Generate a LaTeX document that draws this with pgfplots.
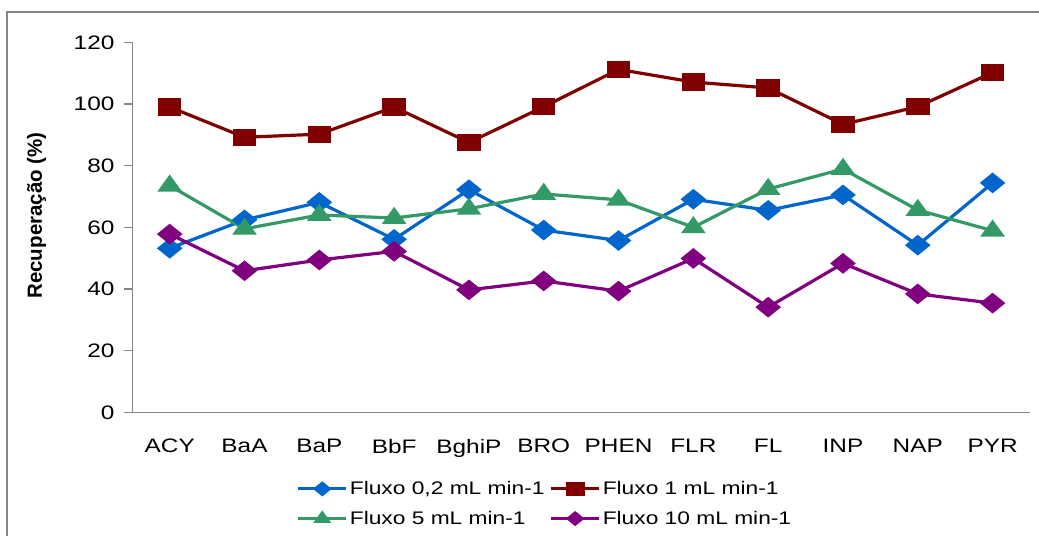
\documentclass[border=0pt]{standalone}
\usepackage{fontspec}
\setmainfont[FakeStretch=1.25]{Liberation Sans}
\newfontfamily\labelfont{Liberation Sans}
\usepackage{pgfplots}
\pgfplotsset{compat=1.18}

\definecolor{fblue}{HTML}{0066CC}
\definecolor{fred}{HTML}{800000}
\definecolor{fgreen}{HTML}{339966}
\definecolor{fpurple}{HTML}{800080}
\definecolor{axgray}{HTML}{868686}

% Recovery (%) per compound, x = 0..11 (ACY ... PYR)
\begin{document}
\begin{tikzpicture}
\useasboundingbox (0,0) rectangle (1039pt,536pt);
\draw[axgray, line width=1.2pt] (7pt,0pt) -- (7pt,524pt) -- (1039pt,524pt);
\begin{axis}[
  at={(132.3pt,123.7pt)}, anchor=south west,
  scale only axis, width=897.7pt, height=370pt,
  xmin=-0.5, xmax=11.5, ymin=0, ymax=120,
  axis lines*=left,
  axis line style={-, draw=axgray, line width=1.2pt},
  xtick={0,...,11},
  xticklabels={ACY,BaA,BaP,BbF,BghiP,BRO,PHEN,FLR,FL,INP,NAP,PYR},
  x tick style={draw=none},
  ytick={0,20,...,120},
  y tick style={draw=axgray, line width=1.2pt},
  tick align=outside, tick pos=left,
  major tick length=8pt,
  /pgf/number format/assume math mode=true,
  tick label style={font=\fontsize{19.5}{23}\selectfont, text=black},
  yticklabel style={xshift=-5pt},
  xticklabel style={yshift=-14pt},
  ylabel={\labelfont\bfseries Recuperação (\%)},
  ylabel style={at={(axis description cs:-0.1065,0.532)}, anchor=center,
    font=\fontsize{20.5}{24}\selectfont},
  line width=3.2pt,
  legend columns=2,
  legend cell align=left,
  legend style={at={(axis description cs:0.178,-0.172)}, anchor=north west,
    draw=none, fill=none, font=\fontsize{18.2}{21.5}\selectfont,
    row sep=11pt,
    /tikz/every even column/.append style={column sep=3pt}},
  legend image code/.code={
    \draw[mark repeat=2,mark phase=2,#1,mark size=5.5pt] plot coordinates {(0pt,0pt)(24pt,0pt)(48pt,0pt)};},
]
\addplot[fblue, mark=diamond*, mark size=8.3pt, mark options={xscale=1.65, solid}]
  coordinates {(0,53.2)(1,62.4)(2,68.1)(3,56.1)(4,72.2)(5,59.1)(6,55.7)(7,69.1)(8,65.5)(9,70.5)(10,54.2)(11,74.4)};
\addlegendentry{Fluxo 0,2 mL min-1}
\addplot[fred, mark=square*, mark size=7pt, mark options={xscale=1.45, solid}]
  coordinates {(0,99.0)(1,89.2)(2,90.2)(3,99.0)(4,87.5)(5,99.1)(6,111.2)(7,107.1)(8,105.2)(9,93.4)(10,99.1)(11,110.2)};
\addlegendentry{Fluxo 1 mL min-1}
\addplot[fgreen, mark=triangle*, mark size=8.5pt, mark options={xscale=1.25, solid}]
  coordinates {(0,73.5)(1,59.5)(2,64.0)(3,63.0)(4,66.0)(5,70.8)(6,68.9)(7,60.0)(8,72.4)(9,78.9)(10,65.6)(11,58.9)};
\addlegendentry{Fluxo 5 mL min-1}
\addplot[fpurple, mark=diamond*, mark size=8.3pt, mark options={xscale=1.65, solid}]
  coordinates {(0,57.8)(1,45.9)(2,49.4)(3,52.2)(4,39.7)(5,42.6)(6,39.3)(7,49.9)(8,34.1)(9,48.3)(10,38.4)(11,35.4)};
\addlegendentry{Fluxo 10 mL min-1}
\end{axis}
\end{tikzpicture}
\end{document}
